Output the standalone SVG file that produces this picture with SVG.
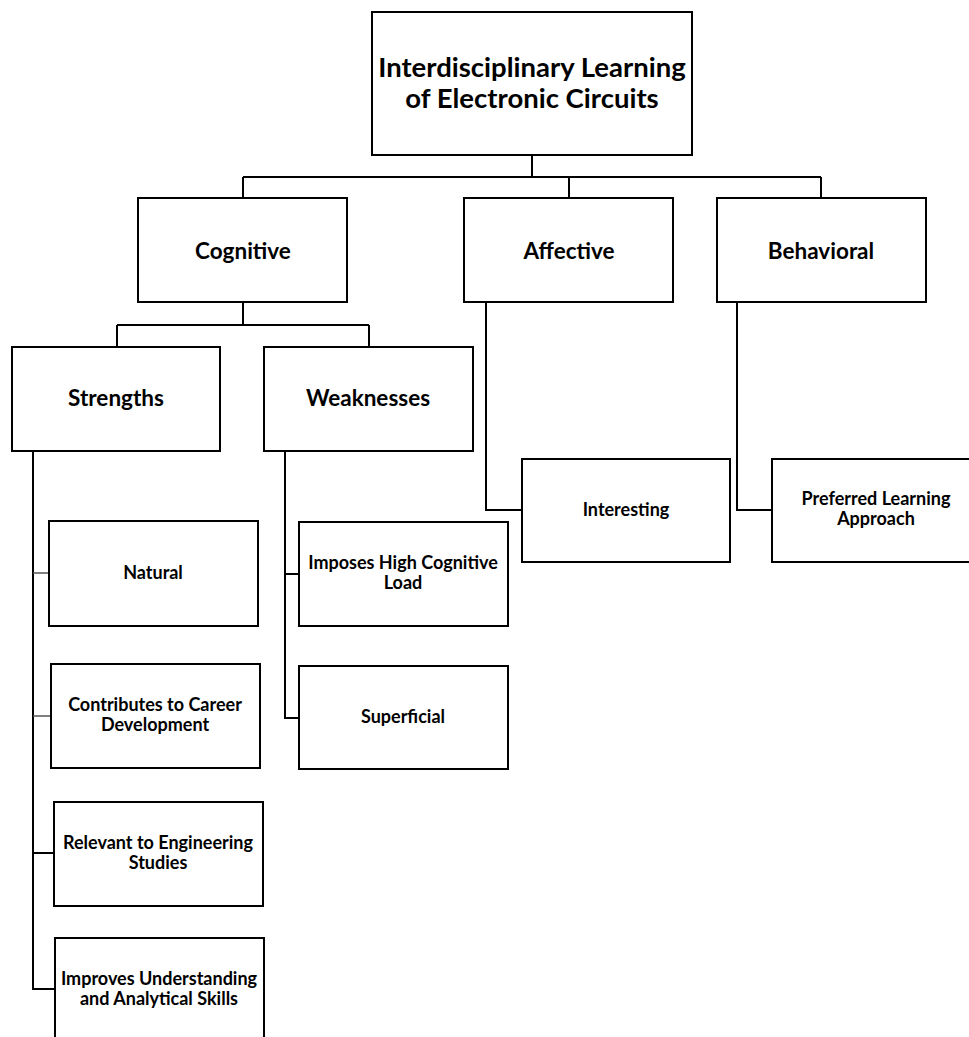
<svg xmlns="http://www.w3.org/2000/svg" width="969" height="1037" viewBox="0 0 969 1037">
<style>
.box{fill:#fff;stroke:#000;stroke-width:2}
.c{fill:none;stroke:#000;stroke-width:2}
.g{fill:none;stroke:#555;stroke-width:1.5}
text{font-family:Lato,"Liberation Sans",sans-serif;font-weight:bold;fill:#000;text-anchor:middle}
.t1{font-size:27.5px}
.t2{font-size:22.5px}
.t3{font-size:18px}
</style>
<rect width="969" height="1037" fill="#fff"/>
<g id="connectors">
<path class="c" d="M532,155V177M243,177H821M243,177V198M569,177V198M821,177V198"/>
<path class="c" d="M243,302V325M117,325H369M117,325V347M369,325V347"/>
<path class="c" d="M33,451V989H55"/>
<path class="g" d="M33,573H49M33,716H51"/>
<path class="c" d="M33,853H54"/>
<path class="c" d="M285,451V718H299M285,574H299"/>
<path class="c" d="M486,303V510H522"/>
<path class="c" d="M737,303V510H772"/>
</g>
<g id="root"><rect class="box" x="372" y="12" width="320" height="143"/><text class="t1" x="532" y="77">Interdisciplinary Learning</text><text class="t1" x="532" y="108">of Electronic Circuits</text></g>
<g id="cognitive"><rect class="box" x="138" y="198" width="209" height="104"/><text class="t2" x="243" y="259">Cognitive</text></g>
<g id="affective"><rect class="box" x="464" y="198" width="209" height="104"/><text class="t2" x="569" y="259">Affective</text></g>
<g id="behavioral"><rect class="box" x="717" y="198" width="209" height="104"/><text class="t2" x="821" y="259">Behavioral</text></g>
<g id="strengths"><rect class="box" x="12" y="347" width="208" height="104"/><text class="t2" x="116" y="406">Strengths</text></g>
<g id="weaknesses"><rect class="box" x="264" y="347" width="209" height="104"/><text class="t2" x="368" y="406">Weaknesses</text></g>
<g id="natural"><rect class="box" x="49" y="521" width="209" height="105"/><text class="t3" x="153" y="579">Natural</text></g>
<g id="career"><rect class="box" x="51" y="664" width="209" height="104"/><text class="t3" x="155" y="711">Contributes to Career</text><text class="t3" x="155" y="731">Development</text></g>
<g id="engineering"><rect class="box" x="54" y="802" width="209" height="104"/><text class="t3" x="158" y="849">Relevant to Engineering</text><text class="t3" x="158" y="869">Studies</text></g>
<g id="improves"><rect class="box" x="55" y="938" width="209" height="110"/><text class="t3" x="159" y="985">Improves Understanding</text><text class="t3" x="159" y="1005">and Analytical Skills</text></g>
<g id="load"><rect class="box" x="299" y="522" width="209" height="104"/><text class="t3" x="403" y="569">Imposes High Cognitive</text><text class="t3" x="403" y="589">Load</text></g>
<g id="superficial"><rect class="box" x="299" y="666" width="209" height="103"/><text class="t3" x="403" y="723">Superficial</text></g>
<g id="interesting"><rect class="box" x="522" y="459" width="208" height="103"/><text class="t3" x="626" y="516">Interesting</text></g>
<g id="preferred"><rect class="box" x="772" y="459" width="210" height="103"/><text class="t3" x="876" y="505">Preferred Learning</text><text class="t3" x="876" y="525">Approach</text></g>
</svg>
